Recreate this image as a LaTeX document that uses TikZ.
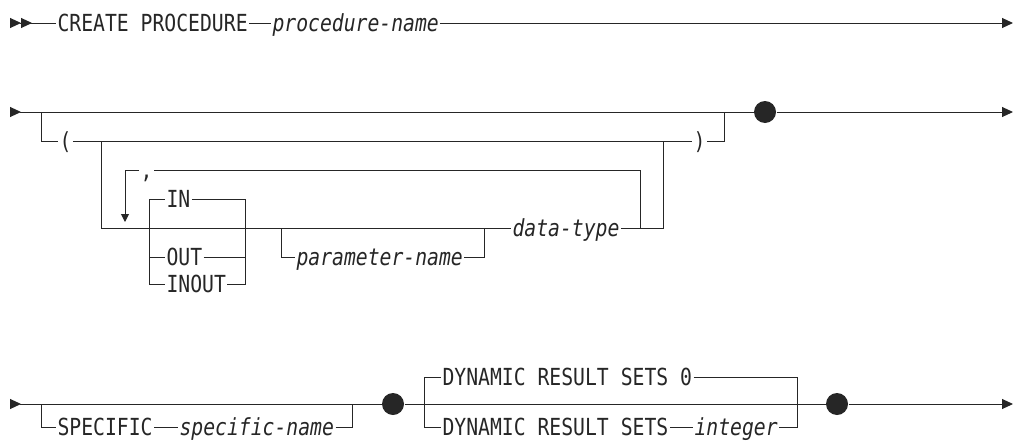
\documentclass[tikz,border=0pt]{standalone}
\usepackage{fontspec}
\newfontfamily\railfont[FakeStretch=0.84]{DejaVu Sans Mono}
\usetikzlibrary{arrows.meta}

\tikzset{
  kw/.style={anchor=west, inner xsep=1pt, inner ysep=0pt, text height=17pt, text depth=0pt,
    font=\railfont\fontsize{23.5}{25}\selectfont},
  var/.style={kw, font=\railfont\itshape\fontsize{23.5}{25}\selectfont},
  dot/.style={circle, fill, inner sep=0pt, minimum size=22pt},
  rowstart/.style={arrows={Triangle[reversed,length=11pt,width=10pt]-}},
  twostart/.style={arrows={Triangle[reversed,length=11pt,width=10pt]Triangle[reversed,length=11pt,width=10pt]-}},
  rowend/.style={arrows={-Triangle[length=11pt,width=10pt]}},
  loopend/.style={arrows={-Triangle[length=8pt,width=8pt]}}
}

\begin{document}
\begin{tikzpicture}[x=1pt, y=-1pt, line width=1pt, color=black!85]

  \useasboundingbox (0,0) rectangle (1017,442);

  % CREATE PROCEDURE line
  \coordinate (S1) at (10,23);
  \coordinate (E1) at (1013,23);

  \node [kw] (create) at (56,23) {CREATE PROCEDURE};
  \node [var] (procname) at (271,23) {procedure-name};

  \draw [twostart] (S1) -- (create);
  \draw (create) -- (procname);
  \draw [rowend] (procname) -- (E1);


  % parameter list
  \coordinate (S2) at (10,112);
  \coordinate (E2) at (1013,112);
  \coordinate (A1) at (41,112);
  \coordinate (A2) at (724,112);
  \coordinate (B1) at (101,141);
  \coordinate (B2) at (663,141);
  \coordinate (C1) at (640,228);
  \coordinate (C2) at (125,222);
  \coordinate (F1) at (149,228);
  \coordinate (F2) at (245,228);
  \coordinate (G1) at (281,228);
  \coordinate (G2) at (484,228);

  \node [dot] (D1) at (765,112) {};
  \node [kw] (lpar) at (58,141) {(};
  \node [kw] (rpar) at (692,141) {)};
  \node [kw] (comma) at (139,170) {,};
  \node [kw] (in) at (165,199) {IN};
  \node [kw] (out) at (165,257) {OUT};
  \node [kw] (inout) at (165,284) {INOUT};
  \node [var] (pname) at (295,257) {parameter-name};
  \node [var] (dtype) at (511,228) {data-type};

  \draw [rowstart] (S2) -- (D1);
  \draw [rowend] (D1) -- (E2);
  \draw (A1) |- (lpar);
  \draw (lpar) -- (rpar);
  \draw (rpar) -| (A2);
  \draw (B1) |- (dtype);
  \draw (dtype) -| (B2);
  \draw (C1) |- (comma);
  \draw [loopend] (comma) -| (C2);

  \draw (F1) |- (in);
  \draw (in) -| (F2);
  \draw (F1) |- (out);
  \draw (out) -| (F2);
  \draw (F1) |- (inout);
  \draw (inout) -| (F2);

  \draw (G1) |- (pname);
  \draw (pname) -| (G2);


  % SPECIFIC and DYNAMIC RESULT SETS
  \coordinate (S3) at (10,404);
  \coordinate (E3) at (1013,404);
  \coordinate (H1) at (41,404);
  \coordinate (H2) at (352,404);
  \coordinate (K1) at (424,404);
  \coordinate (K2) at (797,404);

  \node [dot] (D2) at (393,404) {};
  \node [dot] (D3) at (837,404) {};
  \node [kw] (spec) at (56,427) {SPECIFIC};
  \node [var] (sname) at (178,427) {specific-name};
  \node [kw] (dyn0) at (441,377) {DYNAMIC RESULT SETS 0};
  \node [kw] (dyn) at (441,427) {DYNAMIC RESULT SETS};
  \node [var] (int) at (693,427) {integer};

  \draw [rowstart] (S3) -- (D2);
  \draw (D2) -- (D3);
  \draw [rowend] (D3) -- (E3);

  \draw (H1) |- (spec);
  \draw (spec) -- (sname);
  \draw (sname) -| (H2);

  \draw (K1) |- (dyn0);
  \draw (dyn0) -| (K2);
  \draw (K1) |- (dyn);
  \draw (dyn) -- (int);
  \draw (int) -| (K2);

\end{tikzpicture}
\end{document}
